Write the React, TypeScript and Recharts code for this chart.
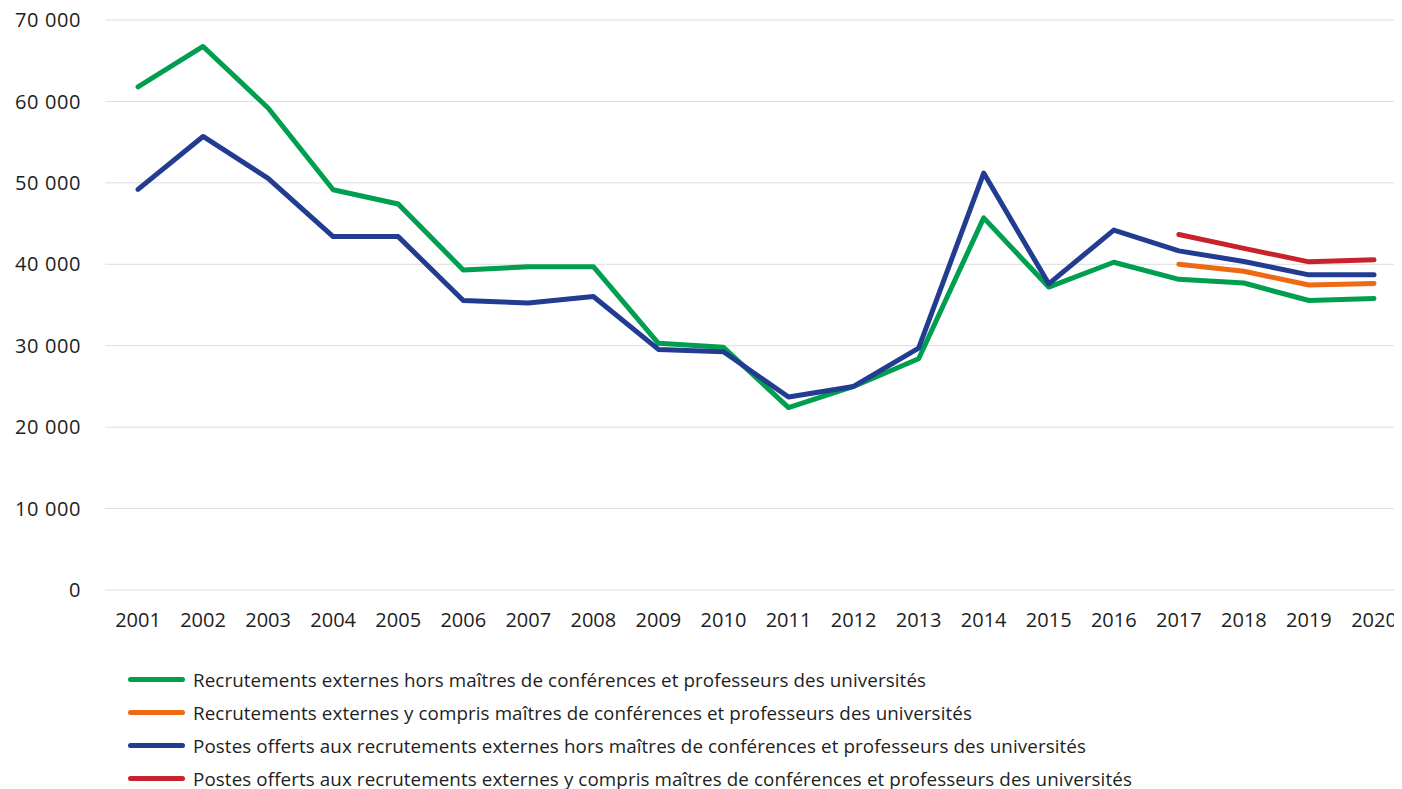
import React from "react";
import { LineChart, Line, XAxis, YAxis, CartesianGrid, Legend } from "recharts";

const years = [
  "2001", "2002", "2003", "2004", "2005", "2006", "2007", "2008", "2009", "2010",
  "2011", "2012", "2013", "2014", "2015", "2016", "2017", "2018", "2019", "2020",
];

const recrutHors = [
  61800, 66750, 59200, 49150, 47400, 39300, 39700, 39700, 30300, 29800,
  22400, 25000, 28400, 45700, 37200, 40250, 38150, 37700, 35550, 35800,
];

const recrutY = [
  null, null, null, null, null, null, null, null, null, null,
  null, null, null, null, null, null, 40000, 39150, 37450, 37650,
];

const postesHors = [
  49200, 55700, 50550, 43400, 43400, 35550, 35250, 36050, 29550, 29250,
  23700, 25000, 29700, 51200, 37600, 44200, 41650, 40350, 38700, 38700,
];

const postesY = [
  null, null, null, null, null, null, null, null, null, null,
  null, null, null, null, null, null, 43650, 41950, 40300, 40550,
];

const yTicks = [0, 10000, 20000, 30000, 40000, 50000, 60000, 70000];

const series = [
  { key: "recrutHors", name: "Recrutements externes hors maîtres de conférences et professeurs des universités", color: "#009E4F" },
  { key: "recrutY", name: "Recrutements externes y compris maîtres de conférences et professeurs des universités", color: "#EE6A12" },
  { key: "postesHors", name: "Postes offerts aux recrutements externes hors maîtres de conférences et professeurs des universités", color: "#213C91" },
  { key: "postesY", name: "Postes offerts aux recrutements externes y compris maîtres de conférences et professeurs des universités", color: "#C8232D" },
];

const data = years.map((year, i) => ({
  year,
  recrutHors: recrutHors[i],
  recrutY: recrutY[i],
  postesHors: postesHors[i],
  postesY: postesY[i],
}));

const fmt = (v: number) => (v === 0 ? "0" : v.toLocaleString("fr-FR").replace(/\s/g, " "));

const FONT = "'Open Sans', sans-serif";

function LegendBox() {
  return (
    <div style={{ height: 132, fontFamily: FONT, fontSize: 18.8, lineHeight: "22px", color: "#1e1e1e" }}>
      {series.map((s) => (
        <div key={s.key} style={{ height: 33, display: "flex", alignItems: "center" }}>
          <div style={{ marginLeft: 128, width: 57, height: 5, borderRadius: 3, background: s.color }} />
          <span style={{ marginLeft: 8, letterSpacing: 0.1 }}>{s.name}</span>
        </div>
      ))}
    </div>
  );
}

export default function App() {
  return (
    <div style={{ margin: -8, background: "#fff" }}>
      <LineChart width={1410} height={800} data={data} margin={{ top: 20, right: 3, bottom: 5, left: 0 }}>
        <CartesianGrid vertical={false} stroke="#dedede" strokeWidth={1} />
        <XAxis
          dataKey="year"
          axisLine={false}
          tickLine={false}
          height={73}
          tickMargin={17}
          interval={0}
          padding={{ left: 33, right: 33 }}
          tick={{ fill: "#1e1e1e", fontSize: 20, fontFamily: FONT }}
        />
        <YAxis
          domain={[0, 70000]}
          ticks={yTicks}
          width={105}
          axisLine={false}
          tickLine={false}
          tickMargin={18}
          tickFormatter={fmt}
          tick={{ fill: "#1e1e1e", fontSize: 20, fontFamily: FONT, letterSpacing: 0.6 }}
        />
        <Legend verticalAlign="bottom" content={() => <LegendBox />} />
        {series.map((s) => (
          <Line
            key={s.key}
            dataKey={s.key}
            name={s.name}
            stroke={s.color}
            strokeWidth={5}
            dot={false}
            activeDot={false}
            strokeLinecap="round"
            strokeLinejoin="round"
            connectNulls={false}
            isAnimationActive={false}
          />
        ))}
      </LineChart>
    </div>
  );
}
